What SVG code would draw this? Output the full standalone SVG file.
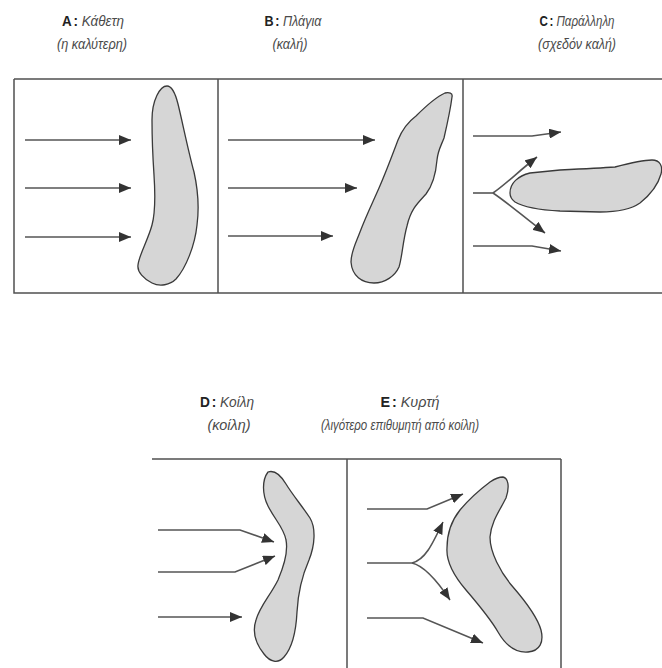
<svg xmlns="http://www.w3.org/2000/svg" width="662" height="668" viewBox="0 0 662 668">
  <defs>
    <marker id="head" viewBox="0 0 12 10" refX="12" refY="5" markerWidth="12" markerHeight="10" markerUnits="userSpaceOnUse" orient="auto">
      <path d="M0,0 L12,5 L0,10 Z" fill="#333"/>
    </marker>
  </defs>
  <style>
    .frame { fill: none; stroke: #505050; stroke-width: 1.5; }
    .body { fill: #d6d6d6; stroke: #3a3a3a; stroke-width: 1.3; stroke-linejoin: round; }
    .flow { fill: none; stroke: #555; stroke-width: 1.6; marker-end: url(#head); }
    .flow-nohead { fill: none; stroke: #555; stroke-width: 1.6; }
    .lbl { font-family: "Liberation Sans Narrow", "Liberation Sans", Arial, sans-serif; font-size: 15px; font-style: italic; fill: #4a4a4a; text-anchor: middle; }
    .key { font-style: normal; font-weight: bold; fill: #222; }
  </style>
  <rect width="662" height="668" fill="#fff"/>

  <!-- panel frames -->
  <g id="frames">
    <path class="frame" d="M14,79 H662 M14,79 V293 H662 M218,79 V293 M463,79 V293"/>
    <path class="frame" d="M152,459 H561 M347,459 V668 M561,459 V668"/>
  </g>

  <!-- captions, fitted to a condensed width -->
  <g id="caption-a">
    <text class="lbl" x="93" y="26" textLength="62" lengthAdjust="spacingAndGlyphs"><tspan class="key">A</tspan><tspan class="key" dx="2">:</tspan> Κάθετη</text>
    <text class="lbl" x="92" y="49" textLength="70" lengthAdjust="spacingAndGlyphs">(η καλύτερη)</text>
  </g>
  <g id="caption-b">
    <text class="lbl" x="293" y="26" textLength="57" lengthAdjust="spacingAndGlyphs"><tspan class="key">B</tspan><tspan class="key" dx="2">:</tspan> Πλάγια</text>
    <text class="lbl" x="290" y="49" textLength="35" lengthAdjust="spacingAndGlyphs">(καλή)</text>
  </g>
  <g id="caption-c">
    <text class="lbl" x="577" y="26" textLength="75" lengthAdjust="spacingAndGlyphs"><tspan class="key">C</tspan><tspan class="key" dx="2">:</tspan> Παράλληλη</text>
    <text class="lbl" x="577" y="49" textLength="78" lengthAdjust="spacingAndGlyphs">(σχεδόν καλή)</text>
  </g>
  <g id="caption-d">
    <text class="lbl" x="227" y="407" textLength="54" lengthAdjust="spacingAndGlyphs"><tspan class="key">D</tspan><tspan class="key" dx="2">:</tspan> Κοίλη</text>
    <text class="lbl" x="229" y="430" textLength="43" lengthAdjust="spacingAndGlyphs">(κοίλη)</text>
  </g>
  <g id="caption-e">
    <text class="lbl" x="410" y="407" textLength="59" lengthAdjust="spacingAndGlyphs"><tspan class="key">E</tspan><tspan class="key" dx="2">:</tspan> Κυρτή</text>
    <text class="lbl" x="400" y="430" textLength="158" lengthAdjust="spacingAndGlyphs">(λιγότερο επιθυμητή από κοίλη)</text>
  </g>

  <!-- bodies -->
  <g id="body-a">
    <path class="body" d="M167,86 C172,86 176,96 178,104 C182,120 188,150 194,172 C198,190 199,210 197,225 C195,245 186,268 176,279 C170,285 160,287 152,283 C144,279 137,272 138,265 C139,255 148,240 152,225 C156,210 155,190 154,175 C153,160 152,140 152,120 C152,100 160,86 167,86 Z"/>
  </g>
  <g id="body-b">
    <path class="body" d="M445,93 C449,92 453,93 452,97 C451,105 447,125 444,138 C441,146 438,150 437,160 C436,172 433,185 426,194 C419,202 411,208 407,226 C403,240 402,258 399,267 C395,276 385,283 374,283 C362,283 352,276 351,262 C351,252 355,245 360,232 C366,216 372,204 379,188 C386,172 392,156 398,140 C402,130 408,122 416,116 C424,108 434,98 445,93 Z"/>
  </g>
  <g id="body-c">
    <path class="body" d="M510,193 C510,183 518,176 530,173 L560,170 C580,169 600,168 615,167 C630,163 642,160 652,160 C660,160 663,166 661,174 C658,185 650,195 640,203 C630,210 615,212 600,212 L560,211 C540,210 525,208 515,202 C511,199 510,196 510,193 Z"/>
  </g>
  <g id="body-d">
    <path class="body" d="M268,472 C274,470 280,474 286,484 C292,494 302,506 310,518 C316,528 315,545 309,560 C302,576 298,592 297,612 C296,632 292,648 284,657 C278,664 270,662 264,654 C256,644 252,632 256,620 C260,606 270,596 278,580 C284,566 288,550 286,540 C284,528 275,520 268,506 C262,494 262,480 268,472 Z"/>
  </g>
  <g id="body-e">
    <path class="body" d="M503,477 C508,478 510,486 506,498 C500,510 491,522 490,537 C490,552 500,572 513,587 C526,602 537,616 541,630 C544,642 540,651 528,652 C516,653 506,646 498,632 C490,618 478,604 466,590 C454,576 446,562 447,548 C447,532 452,520 460,510 C470,498 482,488 490,482 C496,478 500,477 503,477 Z"/>
  </g>

  <!-- flow arrows -->
  <g id="connectors">
    <!-- A -->
    <line class="flow" x1="25" y1="140" x2="131" y2="140"/>
    <line class="flow" x1="25" y1="188" x2="131" y2="188"/>
    <line class="flow" x1="25" y1="237" x2="131" y2="237"/>
    <!-- B -->
    <line class="flow" x1="228" y1="140" x2="375" y2="140"/>
    <line class="flow" x1="228" y1="188" x2="357" y2="188"/>
    <line class="flow" x1="228" y1="236" x2="333" y2="236"/>
    <!-- C -->
    <path class="flow" d="M473,136 H532 L561,132"/>
    <path class="flow" d="M473,246 H532 L561,251"/>
    <path class="flow-nohead" d="M473,193 H493"/>
    <path class="flow" d="M493,193 C505,185 520,170 537,157"/>
    <path class="flow" d="M493,193 C508,203 525,218 545,233"/>
    <!-- D -->
    <path class="flow" d="M158,530 H240 L274,542"/>
    <path class="flow" d="M158,572 H235 L275,556"/>
    <line class="flow" x1="158" y1="617" x2="242" y2="617"/>
    <!-- E -->
    <path class="flow" d="M367,509 H427 L463,494"/>
    <path class="flow-nohead" d="M367,563 H412"/>
    <path class="flow" d="M412,563 C425,560 432,545 443,522"/>
    <path class="flow" d="M412,563 C425,566 438,582 450,600"/>
    <path class="flow" d="M367,618 H423 L483,643"/>
  </g>
</svg>
